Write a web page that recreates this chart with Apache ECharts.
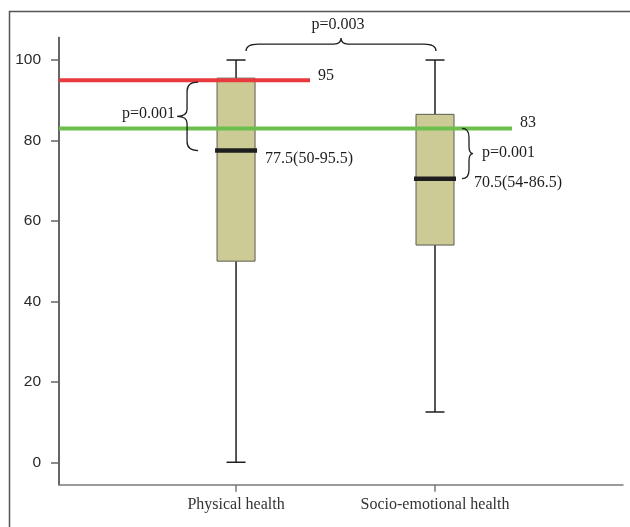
<!DOCTYPE html>
<html>
<head>
<meta charset="utf-8">
<script src="https://cdn.jsdelivr.net/npm/echarts@6/dist/echarts.min.js"></script>
<style>
  html, body { margin: 0; padding: 0; background: #fff; }
  #chart { width: 630px; height: 527px; }
</style>
</head>
<body>
<div id="chart"></div>
<script>
// Categories shown along the horizontal axis
const categories = ['Physical health', 'Socio-emotional health'];
// Five-number summaries: [min, Q1, median, Q3, max]
const physicalHealth = [0, 50, 77.5, 95.5, 100];
const socioEmotionalHealth = [12.5, 54, 70.5, 86.5, 100];
// Median (IQR) annotations
const medianLabels = ['77.5(50-95.5)', '70.5(54-86.5)'];
// Reference scores: red for physical, green for socio-emotional
const referenceValues = [95, 83];
const referenceLabels = ['95', '83'];
// Significance annotations: physical vs ref, physical vs socio, socio vs ref
const pValues = ['p=0.001', 'p=0.003', 'p=0.001'];
// Y axis tick values
const yTicks = [0, 20, 40, 60, 80, 100];

const SERIF = '"Liberation Serif", "Times New Roman", serif';
const SANS = '"Liberation Sans", Arial, sans-serif';
const INK = '#1e1e1e';
const SERIF_FONT = '16px ' + SERIF;

const boxData = [
  [1].concat(physicalHealth),
  [2].concat(socioEmotionalHealth)
];

// box-and-whisker glyph for each category
function renderBox(params, api) {
  const cx = api.coord([api.value(0), 0])[0];
  const yMin = api.coord([0, api.value(1)])[1];
  const yQ1 = api.coord([0, api.value(2)])[1];
  const yMed = api.coord([0, api.value(3)])[1];
  const yQ3 = api.coord([0, api.value(4)])[1];
  const yMax = api.coord([0, api.value(5)])[1];
  const half = 19, cap = 9.5, medHalf = 21;
  const idx = params.dataIndex;
  const labelOffset = idx === 0 ? [29, 8] : [39, 4];
  const lineStyle = { stroke: INK, lineWidth: 1.5 };
  return {
    type: 'group',
    children: [
      { type: 'line', shape: { x1: cx, y1: yQ3, x2: cx, y2: yMax }, style: lineStyle },
      { type: 'line', shape: { x1: cx - cap, y1: yMax, x2: cx + cap, y2: yMax }, style: lineStyle },
      { type: 'line', shape: { x1: cx, y1: yQ1, x2: cx, y2: yMin }, style: lineStyle },
      { type: 'line', shape: { x1: cx - cap, y1: yMin, x2: cx + cap, y2: yMin }, style: lineStyle },
      { type: 'rect', shape: { x: cx - half, y: yQ3, width: 2 * half, height: yQ1 - yQ3 },
        style: { fill: '#cccb96', stroke: '#5c5c50', lineWidth: 1 } },
      { type: 'line', shape: { x1: cx - medHalf, y1: yMed, x2: cx + medHalf, y2: yMed },
        style: { stroke: INK, lineWidth: 4.5 } },
      { type: 'text', style: { text: medianLabels[idx], x: cx + labelOffset[0], y: yMed + labelOffset[1],
        font: SERIF_FONT, fill: INK, align: 'left', verticalAlign: 'middle' } }
    ]
  };
}

// reference score lines starting at the value axis
function renderReference(params, api) {
  const idx = params.dataIndex;
  const cs = params.coordSys;
  const cx = api.coord([api.value(0), 0])[0];
  const y = api.coord([0, api.value(1)])[1];
  const reach = idx === 0 ? 74 : 77;
  const color = idx === 0 ? '#e83a3e' : '#6cbf4c';
  const x2 = cx + reach;
  return {
    type: 'group',
    children: [
      { type: 'line', shape: { x1: cs.x, y1: y, x2: x2, y2: y }, style: { stroke: color, lineWidth: 4 } },
      { type: 'text', style: { text: referenceLabels[idx], x: x2 + 8, y: y - (idx === 0 ? 4 : 6),
        font: SERIF_FONT, fill: INK, align: 'left', verticalAlign: 'middle' } }
    ]
  };
}

// curly brace paths
function vBrace(xt, xs, xp, y1, y2) {
  const ym = (y1 + y2) / 2, r = 9, r2 = 7;
  return 'M' + xt + ' ' + y1 + ' Q' + xs + ' ' + y1 + ' ' + xs + ' ' + (y1 + r) +
    ' L' + xs + ' ' + (ym - r2) + ' Q' + xs + ' ' + ym + ' ' + xp + ' ' + ym +
    ' Q' + xs + ' ' + ym + ' ' + xs + ' ' + (ym + r2) +
    ' L' + xs + ' ' + (y2 - r) + ' Q' + xs + ' ' + y2 + ' ' + xt + ' ' + y2;
}
function hBrace(yt, ys, yp, x1, x2) {
  const xm = (x1 + x2) / 2, r = 12, r2 = 7;
  return 'M' + x1 + ' ' + yt + ' Q' + x1 + ' ' + ys + ' ' + (x1 + r) + ' ' + ys +
    ' L' + (xm - r2) + ' ' + ys + ' Q' + xm + ' ' + ys + ' ' + xm + ' ' + yp +
    ' Q' + xm + ' ' + ys + ' ' + (xm + r2) + ' ' + ys +
    ' L' + (x2 - r) + ' ' + ys + ' Q' + x2 + ' ' + ys + ' ' + x2 + ' ' + yt;
}

function renderBraces(params, api) {
  const c1 = api.coord([1, 0])[0];
  const c2 = api.coord([2, 0])[0];
  const yRef1 = api.coord([0, referenceValues[0]])[1];
  const yRef2 = api.coord([0, referenceValues[1]])[1];
  const yMed1 = api.coord([0, physicalHealth[2]])[1];
  const yMed2 = api.coord([0, socioEmotionalHealth[2]])[1];
  const yMax = api.coord([0, Math.max(physicalHealth[4], socioEmotionalHealth[4])])[1];
  const stroke = { stroke: INK, lineWidth: 1.3, fill: null };

  const aTop = yRef1 + 2, aBot = yMed1;
  const bTips = yMax - 9, bX1 = c1 + 10, bX2 = c2 + 1;
  const cTop = yRef2, cBot = yMed2;
  return {
    type: 'group',
    children: [
      { type: 'path', shape: { pathData: vBrace(c1 - 38, c1 - 49, c1 - 59, aTop, aBot) }, style: stroke },
      { type: 'text', style: { text: pValues[0], x: c1 - 61, y: (aTop + aBot) / 2 - 3,
        font: SERIF_FONT, fill: INK, align: 'right', verticalAlign: 'middle' } },
      { type: 'path', shape: { pathData: hBrace(bTips, bTips - 7, bTips - 13, bX1, bX2) }, style: stroke },
      { type: 'text', style: { text: pValues[1], x: (bX1 + bX2) / 2 - 3, y: bTips - 26,
        font: SERIF_FONT, fill: INK, align: 'center', verticalAlign: 'middle' } },
      { type: 'path', shape: { pathData: vBrace(c2 + 27, c2 + 34, c2 + 38, cTop, cBot) }, style: stroke },
      { type: 'text', style: { text: pValues[2], x: c2 + 47, y: (cTop + cBot) / 2 - 1,
        font: SERIF_FONT, fill: INK, align: 'left', verticalAlign: 'middle' } }
    ]
  };
}

const chart = echarts.init(document.getElementById('chart'), null, { renderer: 'canvas' });
chart.setOption({
  backgroundColor: '#fff',
  animation: false,
  graphic: [{
    type: 'rect', silent: true, z: -1,
    shape: { x: 9.5, y: 11.5, width: 700, height: 600 },
    style: { fill: null, stroke: '#555', lineWidth: 1.5 }
  }],
  grid: { left: 59, right: 7, top: 37.5, bottom: 42.2, containLabel: false },
  xAxis: {
    type: 'value', min: 0.11, max: 2.945,
    splitLine: { show: false },
    axisLine: { onZero: false, lineStyle: { color: '#7a7a7a', width: 1.5 } },
    axisTick: { show: true, length: 7, customValues: [1, 2], lineStyle: { color: '#7a7a7a', width: 1.5 } },
    axisLabel: {
      customValues: [1, 2],
      formatter: function (v) { return categories[Math.round(v) - 1] || ''; },
      margin: 12, fontFamily: SERIF, fontSize: 16, color: '#333'
    }
  },
  yAxis: {
    type: 'value', min: -5.6, max: 105.6,
    splitLine: { show: false },
    axisLine: { show: true, onZero: false, lineStyle: { color: '#333', width: 1.5 } },
    axisTick: { show: true, length: 8, customValues: yTicks, lineStyle: { color: '#666', width: 1.5 } },
    axisLabel: { customValues: yTicks, margin: 18, fontFamily: SANS, fontSize: 15.5, color: '#2a2a2a' }
  },
  series: [
    { type: 'custom', name: 'reference', clip: false, z: 3,
      data: referenceValues.map(function (v, i) { return [i + 1, v]; }),
      renderItem: renderReference },
    { type: 'custom', name: 'boxes', clip: false, z: 2, data: boxData, renderItem: renderBox },
    { type: 'custom', name: 'braces', clip: false, z: 4, data: [[0]], renderItem: renderBraces }
  ]
});
</script>
</body>
</html>
